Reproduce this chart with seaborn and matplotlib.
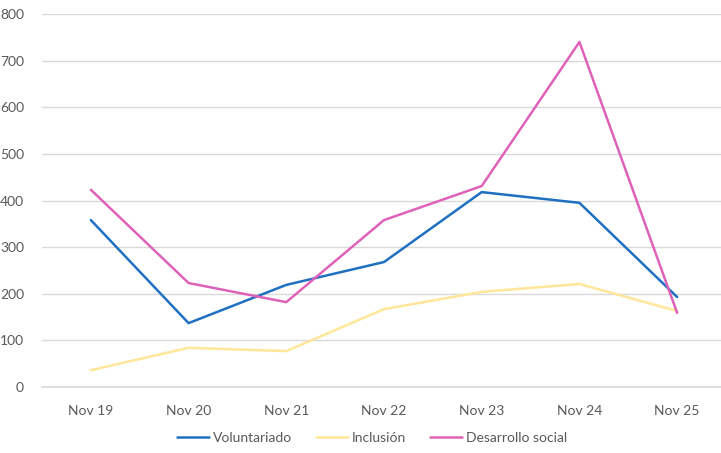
import pandas as pd
import matplotlib.pyplot as plt
import seaborn as sns

# Datos
meses = ["Nov 19", "Nov 20", "Nov 21", "Nov 22", "Nov 23", "Nov 24", "Nov 25"]
voluntariado = [358, 137, 219, 268, 418, 395, 193]
inclusion = [36, 84, 77, 167, 204, 221, 163]
desarrollo_social = [423, 223, 182, 358, 431, 740, 159]

series = {
    "Voluntariado": voluntariado,
    "Inclusión": inclusion,
    "Desarrollo social": desarrollo_social,
}
colores = {
    "Voluntariado": "#1F70C1",
    "Inclusión": "#FFE699",
    "Desarrollo social": "#DE62B8",
}

df = pd.concat(
    [pd.DataFrame({"mes": meses, "valor": v, "serie": k, "pos": range(len(meses))})
     for k, v in series.items()],
    ignore_index=True,
)

sns.set_theme(style="white")
plt.rcParams["font.family"] = ["Lato", "DejaVu Sans"]

fig = plt.figure(figsize=(7.21, 4.53), dpi=100)
ax = fig.add_axes([42 / 721, 66 / 453, 684 / 721, 373 / 453])

sns.lineplot(data=df, x="pos", y="valor", hue="serie", palette=colores,
             linewidth=1.8, ax=ax, legend=True)

gris = "#595959"
ax.set_xlim(-0.5, len(meses) - 0.5)
ax.set_ylim(0, 800)
ax.set_yticks(range(0, 801, 100))
ax.set_xticks(range(len(meses)))
ax.set_xticklabels(meses)
ax.set_xticks([i - 0.5 for i in range(len(meses) + 1)], minor=True)
ax.yaxis.grid(True, color="#D9D9D9", linewidth=1)
ax.set_axisbelow(True)
ax.set_xlabel("")
ax.set_ylabel("")

for s in ["top", "right", "left"]:
    ax.spines[s].set_visible(False)
ax.spines["bottom"].set_color("#D9D9D9")

ax.tick_params(axis="y", length=0, pad=13, labelsize=10, labelcolor=gris)
ax.tick_params(axis="x", which="major", length=0, pad=13, labelsize=10, labelcolor=gris)
ax.tick_params(axis="x", which="minor", length=5, color="#D9D9D9", width=1, direction="out")

handles, labels = ax.get_legend_handles_labels()
ax.legend(handles, labels, loc="center", bbox_to_anchor=(372 / 721, 15 / 453),
          bbox_transform=fig.transFigure, ncol=3, frameon=False, fontsize=10,
          labelcolor=gris, handlelength=2.3, handletextpad=0.3, columnspacing=1.7)

fig.savefig("out.png", dpi=100)
